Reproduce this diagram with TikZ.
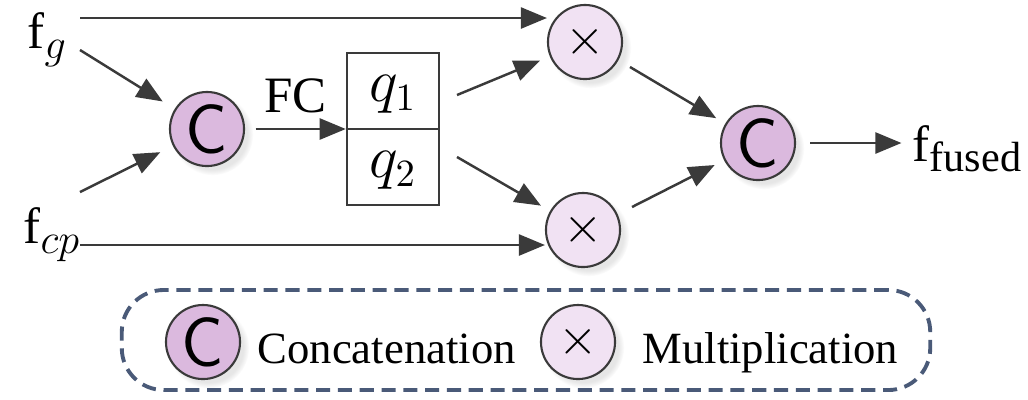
\documentclass[tikz,border=0pt]{standalone}
\usepackage{fontspec}
\setmainfont{Liberation Serif}
\usetikzlibrary{arrows.meta,shadows}
\definecolor{ink}{HTML}{3A3A3A}
\definecolor{catfill}{HTML}{DBB9DE}
\definecolor{mulfill}{HTML}{F1E2F3}
\definecolor{dashc}{HTML}{4A5A78}
% large, lowered subscript for the feature names
\newcommand{\lowsub}[1]{\raisebox{-3pt}{\fontsize{12}{12}\selectfont#1}}

\begin{document}
\begin{tikzpicture}[x=0.01cm,y=-0.01cm,
    line/.style={draw=ink,line width=0.7pt},
    arr/.style={line,-{Triangle[length=2.6mm,width=2.1mm]}},
    op/.style={circle,draw=ink,line width=0.6pt,minimum size=0.74cm,inner sep=0pt,
      circular drop shadow={shadow xshift=0.5mm,shadow yshift=-0.5mm,opacity=0.2}},
    cat/.style={op,fill=catfill,font=\sffamily\fontsize{20}{20}\selectfont},
    mul/.style={op,fill=mulfill,font=\fontsize{15}{15}\selectfont},
    lbl/.style={font=\fontsize{14.5}{17}\selectfont},
    qbox/.style={draw=ink,line width=0.7pt,minimum width=0.92cm,minimum height=0.76cm,
      inner sep=0pt,text height=0.7em,text depth=0.1em,font=\fontsize{16}{18}\selectfont},
    legtx/.style={font=\fontsize{12.7}{15}\selectfont,anchor=base west,inner sep=0pt}]

  \useasboundingbox (0,0) rectangle (1028,399);

  % inputs and the first concatenation
  \node[lbl,anchor=base west,inner sep=0pt] (fg) at (27,48) {f\lowsub{$g$}};
  \node[lbl,anchor=base west,inner sep=0pt] (fcp) at (23,243) {f\lowsub{$cp$}};
  \coordinate (gtop) at (80,18);
  \coordinate (gin) at (80,50);
  \coordinate (cpin) at (80,192);
  \coordinate (cpbot) at (80,245);
  \node[cat] (cat1) at (207,129) {C};

  \draw[arr,shorten >=4pt] (gin) -- (cat1);
  \draw[arr,shorten >=4pt] (cpin) -- (cat1);

  % FC output, split into two weights
  \node[qbox] (qa) at (393,91) {$q_1$};
  \node[qbox] (qb) at (393,167) {$q_2$};
  \draw[arr,shorten <=3pt] (cat1.east) -- (cat1 -| qa.south west)
    node[lbl,midway,above=1pt] {FC};

  % weighting of each input
  \node[mul] (mulA) at (585,42) {$\times$};
  \node[mul] (mulB) at (583,230) {$\times$};
  \coordinate (q1out) at (457,95);
  \coordinate (q2out) at (457,157);
  \draw[arr,shorten >=3pt] (q1out) -- (mulA);
  \draw[arr,shorten >=3pt] (q2out) -- (mulB);
  \draw[arr] (gtop) -- (gtop -| mulA.west);
  \draw[arr] (cpbot) -- (cpbot -| mulB.west);

  % final concatenation
  \node[cat] (cat2) at (758,143) {C};
  \node[lbl,anchor=base west,inner sep=0pt] (ffused) at (912,161) {f\lowsub{fused}};
  \coordinate (mAout) at (630,67);
  \coordinate (mBout) at (632,207);
  \draw[arr,shorten >=3pt] (mAout) -- (cat2);
  \draw[arr,shorten >=3pt] (mBout) -- (cat2);
  \draw[arr,shorten <=4pt,shorten >=3pt] (cat2.east) -- (cat2 -| ffused.west);

  % legend
  \node[draw=dashc,line width=1.1pt,dash pattern=on 4pt off 2.2pt,rounded corners=0.42cm,
        minimum width=8.08cm,minimum height=1.0cm] (legend) at (526,340) {};
  \node[cat] (lgcat) at (203,342) {C};
  \node[legtx] (lgcattx) at (257,363) {Concatenation};
  \node[mul] (lgmul) at (578,342) {$\times$};
  \node[legtx] (lgmultx) at (642,363) {Multiplication};
\end{tikzpicture}
\end{document}
